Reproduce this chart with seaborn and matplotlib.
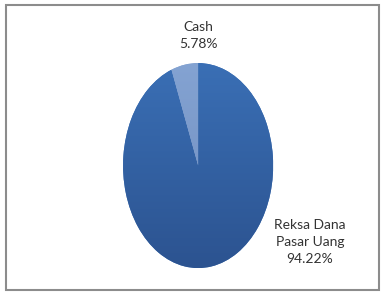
import matplotlib
matplotlib.use("Agg")
import matplotlib.pyplot as plt
from matplotlib.patches import Rectangle
from matplotlib.colors import LinearSegmentedColormap
import numpy as np
import seaborn as sns

labels = ["Reksa Dana\nPasar Uang", "Cash"]
shares = [94.22, 5.78]
# top / bottom shade of each slice (slight vertical gradient like the original)
shades = [("#3A6FB5", "#2C5390"), ("#84A3D2", "#6E8CBE")]

sns.set_style("white")
plt.rcParams["font.family"] = ["Lato", "DejaVu Sans"]

fig = plt.figure(figsize=(3.81, 2.92), dpi=100)
ax = fig.add_axes([0.323, 0.082, 0.394, 0.702])

wedges, _ = ax.pie(shares, colors=[s[0] for s in shades], startangle=90,
                   counterclock=False, wedgeprops=dict(linewidth=0))
ax.set_aspect("auto")

grad = np.linspace(0, 1, 256).reshape(-1, 1)
for w, (top, bottom) in zip(wedges, shades):
    cmap = LinearSegmentedColormap.from_list("g", [top, bottom])
    im = ax.imshow(grad, cmap=cmap, extent=(-1, 1, -1, 1), origin="upper",
                   aspect="auto", zorder=w.get_zorder() + 0.1)
    im.set_clip_path(w)

ax.set_xlim(-1, 1)
ax.set_ylim(-1, 1)
ax.axis("off")

# data labels
label_pos = [(0.813, 0.171), (0.520, 0.880)]
for lab, val, (x, y) in zip(labels, shares, label_pos):
    fig.text(x, y, f"{lab}\n{val:.2f}%", ha="center", va="center",
             fontsize=10, color="#333333", linespacing=1.5)

# chart border
fig.patches.append(Rectangle((0.016, 0.007), 0.98, 0.976, transform=fig.transFigure,
                             fill=False, edgecolor="#8c8c8c", linewidth=1.5))

fig.savefig("out.png", dpi=100)
